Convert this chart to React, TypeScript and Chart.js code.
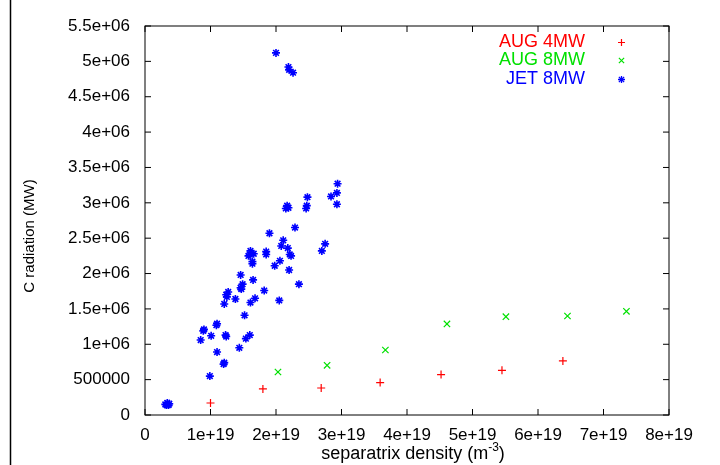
import React, { useEffect, useRef } from 'react';
import { Chart, registerables } from 'chart.js';

Chart.register(...registerables);

const FONT = '"Liberation Sans", Arial, Helvetica, sans-serif';

const xTicks = [0, 1e19, 2e19, 3e19, 4e19, 5e19, 6e19, 7e19, 8e19];
const yTicks = [0, 5e5, 1e6, 1.5e6, 2e6, 2.5e6, 3e6, 3.5e6, 4e6, 4.5e6, 5e6, 5.5e6];

const seriesNames = ['AUG 4MW', 'AUG 8MW', 'JET 8MW'];
const seriesColors = ['#ff0000', '#00e000', '#0000ff'];

const xTitle = 'separatrix density (m';
const xTitleSup = '-3';
const yTitle = 'C radiation (MW)';

const aug4X = [1.0e19, 1.8e19, 2.69e19, 3.59e19, 4.52e19, 5.45e19, 6.38e19];
const aug4Y = [1.7e5, 3.68e5, 3.82e5, 4.59e5, 5.71e5, 6.32e5, 7.64e5];

const aug8X = [2.03e19, 2.78e19, 3.67e19, 4.61e19, 5.51e19, 6.45e19, 7.35e19];
const aug8Y = [6.08e5, 7.03e5, 9.19e5, 1.287e6, 1.39e6, 1.4e6, 1.466e6];

const jetX = [
  2.0e19, 2.19e19, 2.2e19, 2.26e19, 2.94e19, 2.48e19, 2.84e19, 2.93e19, 2.93e19, 2.15e19,
  2.17e19, 2.19e19, 2.46e19, 2.47e19, 2.29e19, 1.9e19, 2.11e19, 2.08e19, 2.18e19, 2.21e19,
  2.23e19, 2.75e19, 2.7e19, 1.85e19, 1.85e19, 1.61e19, 1.6e19, 1.66e19, 1.58e19, 1.64e19,
  1.64e19, 2.06e19, 1.98e19, 2.2e19, 1.46e19, 1.65e19, 1.49e19, 1.46e19, 1.47e19, 2.35e19,
  1.82e19, 1.27e19, 1.25e19, 1.24e19, 1.38e19, 1.68e19, 1.61e19, 2.05e19, 1.21e19, 1.52e19,
  1.09e19, 1.1e19, 0.9e19, 0.89e19, 1.01e19, 0.85e19, 1.24e19, 1.23e19, 1.6e19, 1.54e19,
  1.44e19, 1.1e19, 1.21e19, 1.2e19, 0.99e19, 0.31e19, 0.34e19, 0.37e19, 0.33e19, 0.36e19,
];
const jetY = [
  5.12e6, 4.92e6, 4.88e6, 4.84e6, 3.27e6, 3.08e6, 3.09e6, 3.14e6, 2.98e6, 2.92e6,
  2.96e6, 2.93e6, 2.92e6, 2.96e6, 2.65e6, 2.57e6, 2.47e6, 2.39e6, 2.36e6, 2.27e6,
  2.25e6, 2.42e6, 2.32e6, 2.31e6, 2.27e6, 2.32e6, 2.27e6, 2.28e6, 2.25e6, 2.17e6,
  2.14e6, 2.18e6, 2.11e6, 2.05e6, 1.98e6, 1.91e6, 1.85e6, 1.8e6, 1.78e6, 1.85e6,
  1.76e6, 1.74e6, 1.67e6, 1.7e6, 1.64e6, 1.65e6, 1.59e6, 1.62e6, 1.57e6, 1.41e6,
  1.27e6, 1.29e6, 1.21e6, 1.19e6, 1.12e6, 1.06e6, 1.11e6, 1.13e6, 1.13e6, 1.08e6,
  0.95e6, 0.89e6, 0.74e6, 0.72e6, 0.55e6, 0.15e6, 0.17e6, 0.16e6, 0.14e6, 0.14e6,
];

function fmt(v: number): string {
  if (v === 0) return '0';
  if (Math.abs(v) < 1e6) return String(Math.round(v));
  const [m, e] = v.toExponential().split('e');
  const mant = String(Number(Number(m).toPrecision(6)));
  const sign = e[0];
  let digits = e.slice(1);
  if (digits.length < 2) digits = '0' + digits;
  return mant + 'e' + sign + digits;
}

function pts(xs: number[], ys: number[]) {
  return xs.map((x, i) => ({ x, y: ys[i] }));
}

function drawMarker(ctx: CanvasRenderingContext2D, kind: number, x: number, y: number, r: number) {
  ctx.beginPath();
  if (kind === 0 || kind === 2) {
    ctx.moveTo(x - r, y); ctx.lineTo(x + r, y);
    ctx.moveTo(x, y - r); ctx.lineTo(x, y + r);
  }
  if (kind === 1 || kind === 2) {
    const d = r * 0.75;
    ctx.moveTo(x - d, y - d); ctx.lineTo(x + d, y + d);
    ctx.moveTo(x - d, y + d); ctx.lineTo(x + d, y - d);
  }
  ctx.stroke();
}

const framePlugin = {
  id: 'frame',
  beforeDatasetsDraw(chart: any) {
    const { ctx, chartArea, scales } = chart;
    const { left, right, top, bottom } = chartArea;
    const xs = scales.x;
    const ys = scales.y;
    ctx.save();
    ctx.strokeStyle = '#000';
    ctx.lineWidth = 1;
    ctx.strokeRect(left, top, right - left, bottom - top);
    const tl = 6;
    ctx.beginPath();
    xTicks.forEach((v) => {
      const px = xs.getPixelForValue(v);
      ctx.moveTo(px, bottom); ctx.lineTo(px, bottom - tl);
      ctx.moveTo(px, top); ctx.lineTo(px, top + tl);
    });
    yTicks.forEach((v) => {
      const py = ys.getPixelForValue(v);
      ctx.moveTo(left, py); ctx.lineTo(left + tl, py);
      ctx.moveTo(right, py); ctx.lineTo(right - tl, py);
    });
    ctx.stroke();
    // page border line on the left
    ctx.lineWidth = 1.5;
    ctx.beginPath();
    ctx.moveTo(10.5, 0); ctx.lineTo(10.5, chart.height);
    ctx.stroke();

    // x axis title with superscript
    ctx.fillStyle = '#000';
    ctx.textBaseline = 'alphabetic';
    ctx.textAlign = 'left';
    ctx.font = `18px ${FONT}`;
    const wMain = ctx.measureText(xTitle).width;
    ctx.font = `12px ${FONT}`;
    const wSup = ctx.measureText(xTitleSup).width;
    ctx.font = `18px ${FONT}`;
    const wClose = ctx.measureText(')').width;
    const total = wMain + wSup + wClose;
    let tx = 413 - total / 2;
    const baseY = 459;
    ctx.fillText(xTitle, tx, baseY);
    tx += wMain;
    ctx.font = `12px ${FONT}`;
    ctx.fillText(xTitleSup, tx, baseY - 8);
    tx += wSup;
    ctx.font = `18px ${FONT}`;
    ctx.fillText(')', tx, baseY);

    // y axis title
    ctx.save();
    ctx.translate(30, 236);
    ctx.rotate(-Math.PI / 2);
    ctx.textAlign = 'center';
    ctx.textBaseline = 'middle';
    ctx.font = `15px ${FONT}`;
    ctx.fillText(yTitle, 0, 0);
    ctx.restore();

    // legend (gnuplot style)
    ctx.font = `18px ${FONT}`;
    ctx.textAlign = 'right';
    ctx.textBaseline = 'middle';
    const rowsY = [42, 60, 79];
    seriesNames.forEach((name, i) => {
      ctx.fillStyle = seriesColors[i];
      ctx.fillText(name, 585, rowsY[i]);
      ctx.strokeStyle = seriesColors[i];
      ctx.lineWidth = i === 2 ? 1.3 : 1.2;
      drawMarker(ctx, i, 621.5, rowsY[i] + 0.5, 3.5);
    });
    ctx.restore();
  },
};

export default function App() {
  const ref = useRef<HTMLCanvasElement | null>(null);
  useEffect(() => {
    if (!ref.current) return;
    const tickFont = { family: FONT, size: 17 };
    const chart = new Chart(ref.current, {
      type: 'scatter',
      data: {
        datasets: [
          {
            label: seriesNames[0],
            data: pts(aug4X, aug4Y),
            pointStyle: 'cross',
            radius: 4,
            borderWidth: 1.2,
            borderColor: seriesColors[0],
            backgroundColor: seriesColors[0],
          },
          {
            label: seriesNames[1],
            data: pts(aug8X, aug8Y),
            pointStyle: 'crossRot',
            radius: 4.5,
            borderWidth: 1.2,
            borderColor: seriesColors[1],
            backgroundColor: seriesColors[1],
          },
          {
            label: seriesNames[2],
            data: pts(jetX, jetY),
            pointStyle: 'star',
            radius: 4,
            borderWidth: 1.6,
            borderColor: seriesColors[2],
            backgroundColor: seriesColors[2],
          },
        ],
      },
      options: {
        animation: false,
        responsive: false,
        maintainAspectRatio: false,
        layout: { padding: { left: 0, right: 51, top: 26, bottom: 0 } },
        plugins: { legend: { display: false }, tooltip: { enabled: false } },
        scales: {
          x: {
            type: 'linear',
            min: 0,
            max: 8e19,
            afterBuildTicks: (s: any) => { s.ticks = xTicks.map((v) => ({ value: v })); },
            afterFit: (s: any) => { s.height = 50; },
            grid: { display: false, drawTicks: false },
            border: { display: false },
            ticks: {
              padding: 10,
              font: tickFont,
              color: '#000',
              maxRotation: 0,
              autoSkip: false,
              callback: (v: any) => fmt(Number(v)),
            },
            title: { display: false },
          },
          y: {
            type: 'linear',
            min: 0,
            max: 5.5e6,
            afterBuildTicks: (s: any) => { s.ticks = yTicks.map((v) => ({ value: v })); },
            afterFit: (s: any) => { s.width = 145; },
            grid: { display: false, drawTicks: false },
            border: { display: false },
            ticks: {
              padding: 15,
              font: tickFont,
              color: '#000',
              autoSkip: false,
              callback: (v: any) => fmt(Number(v)),
            },
            title: { display: false },
          },
        },
      },
      plugins: [framePlugin],
    } as any);
    return () => chart.destroy();
  }, []);
  return (
    <div style={{ position: 'fixed', left: 0, top: 0, width: 720, height: 465, background: '#fff' }}>
      <canvas ref={ref} width={720} height={465} />
    </div>
  );
}
